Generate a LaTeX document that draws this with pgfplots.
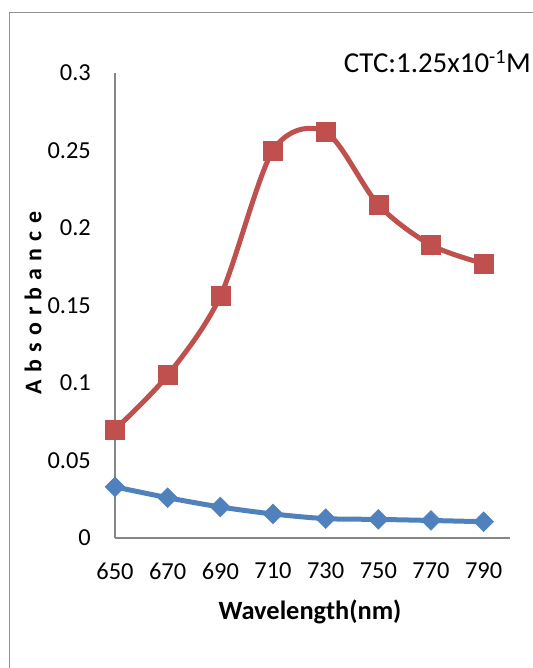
\documentclass[border=0pt]{standalone}
\usepackage{pgfplots}
\pgfplotsset{compat=1.18}
\usepackage{fontspec}
\setmainfont{Carlito}
\newfontfamily\spacedfont[LetterSpace=30]{Carlito}
\definecolor{exred}{HTML}{C0504D}
\definecolor{exblue}{HTML}{4F81BD}
\definecolor{axgray}{HTML}{868686}
\begin{document}
\begin{tikzpicture}
\useasboundingbox (0,0) rectangle (533bp,668bp);
\draw[color=axgray!90, line width=1.2bp] (9.5bp,-5bp) -- (9.5bp,655.5bp) -- (540bp,655.5bp);
\begin{axis}[
  at={(115bp,130bp)}, anchor=south west,
  scale only axis, width=395bp, height=465bp,
  xmin=650, xmax=800, ymin=0, ymax=0.3,
  axis x line=bottom, axis y line=left,
  axis line style={-, color=axgray, line width=1.3bp},
  xtick={650,670,690,710,730,750,770,790},
  ytick={0,0.05,0.1,0.15,0.2,0.25,0.3},
  yticklabels={0,0.05,0.1,0.15,0.2,0.25,0.3},
  scaled y ticks=false,
  major tick length=0pt,
  /pgf/number format/assume math mode=true,
  tick label style={font=\fontsize{24.5}{28}\selectfont},
  xticklabel style={yshift=-21bp},
  yticklabel style={anchor=east, text width=60bp, align=right, inner sep=0pt, xshift=-24bp},
  clip=false,
]
\addplot[color=exred, line width=5bp, smooth, mark=square*, mark size=9.5bp, mark options={solid, fill=exred, draw=exred, line width=0.5bp}]
  coordinates {(650,0.070) (670,0.105) (690,0.156) (710,0.250) (730,0.262) (750,0.215) (770,0.189) (790,0.177)};
\addplot[color=exblue, line width=5bp, smooth, mark=square*, mark size=7bp, mark options={solid, rotate=45, fill=exblue, draw=exblue, line width=0.5bp}]
  coordinates {(650,0.033) (670,0.026) (690,0.020) (710,0.0155) (730,0.0125) (750,0.012) (770,0.0113) (790,0.0105)};
\end{axis}
\node[anchor=base east, inner sep=0pt, font=\fontsize{29}{33}\selectfont] at (531bp,595bp) {CTC:1.25x10\textsuperscript{-1}M};
\node[anchor=base, inner sep=0pt, font=\fontsize{26.5}{30}\selectfont\bfseries] at (310bp,48bp) {Wavelength(nm)};
\node[rotate=90, anchor=center, inner sep=0pt, font=\fontsize{24}{28}\selectfont] at (33bp,365bp) {\spacedfont\bfseries Absorbance};
\end{tikzpicture}
\end{document}
